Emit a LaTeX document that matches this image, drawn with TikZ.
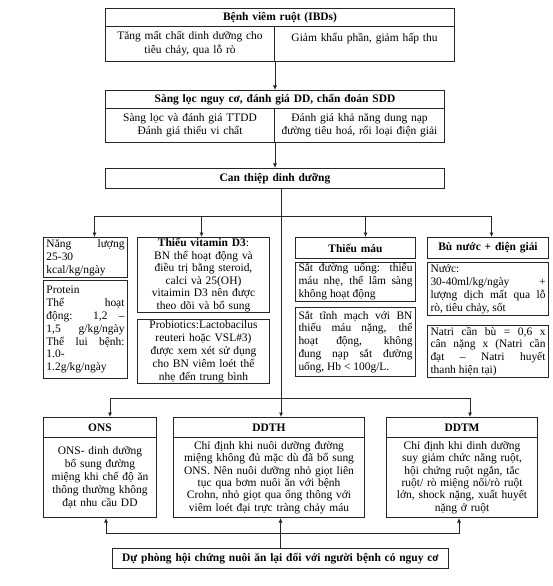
\documentclass[tikz,border=0pt]{standalone}
\usepackage{fontspec}
\setmainfont{Liberation Serif}
\usetikzlibrary{arrows.meta,positioning,calc}

\begin{document}
\begin{tikzpicture}[
    x=1bp, y=-1bp,
    every node/.style={font=\fontsize{11.5}{13}\selectfont},
    cell/.style={draw=edge, line width=1pt, anchor=north west, text width=#1,
      inner xsep=3bp, inner ysep=1bp, align=center},
    head/.style={cell=#1, font=\fontsize{11.5}{13}\selectfont\bfseries},
    arr/.style={-{Latex[length=4.5bp, width=4bp]}, line width=0.8pt, edge},
  ]
    \definecolor{edge}{HTML}{262626}
    \useasboundingbox (0,0) rectangle (553,586);

    % disease and screening blocks
    \node[head=343bp, minimum height=18bp] (ibdT) at (105,8) {Bệnh viêm ruột (IBDs)};
    \node[cell=163bp, minimum height=35bp, font=\fontsize{11.5}{14}\selectfont] (ibdL) at (105,26)
      {Tăng mất chất dinh dưỡng cho\\ tiêu chảy, qua lỗ rò};
    \node[cell=174bp, minimum height=35bp, font=\fontsize{11.5}{14}\selectfont] (ibdR) at (274,26)
      {Giảm khẩu phần, giảm hấp thu\\ \mbox{}};

    \node[head=333bp, minimum height=18bp] (sangT) at (105,90) {Sàng lọc nguy cơ, đánh giá DD, chẩn đoán SDD};
    \node[cell=163bp, minimum height=34bp] (sangL) at (105,108)
      {Sàng lọc và đánh giá TTDD\\ Đánh giá thiểu vi chất};
    \node[cell=164bp, minimum height=34bp] (sangR) at (274,108)
      {Đánh giá khả năng dung nạp\\ đường tiêu hoá, rối loại điện giải};

    \node[head=333bp, minimum height=20bp] (canT) at (105,168) {Can thiệp dinh dưỡng};

    % four groups of intervention
    \node[cell=78bp, minimum height=40bp, align=justify] (nang) at (43,237)
      {Năng lượng\linebreak 25-30\\ kcal/kg/ngày};
    \node[cell=78bp, minimum height=98bp, align=justify] (protein) at (43,280)
      {Protein\\ Thể hoạt\linebreak động: 1,2 –\linebreak 1,5 g/kg/ngày\linebreak
       Thể lui bệnh:\linebreak 1.0-\\ 1.2g/kg/ngày};

    \node[cell=126bp, minimum height=75bp, font=\fontsize{11.5}{12.5}\selectfont] (vitD) at (137,237)
      {\textbf{Thiếu vitamin D3}:\\ BN thể hoạt động và\\ điều trị bằng steroid,\\
       calci và 25(OH)\\ vitaimin D3 nên được\\ theo dõi và bổ sung};
    \node[cell=126bp, minimum height=64bp] (probio) at (137,319)
      {Probiotics:Lactobacilus\\ reuteri hoặc VSL\#3)\\ được xem xét sử dụng\\
       cho BN viêm loét thể\\ nhẹ đến trung bình};

    \node[head=114bp, minimum height=21bp] (mauT) at (295,237) {Thiếu máu};
    \node[cell=114bp, minimum height=38bp, align=justify] (mau1) at (295,262)
      {Sắt đường uống: thiếu\linebreak máu nhẹ, thể lâm sàng\linebreak không hoạt động};
    \node[cell=114bp, minimum height=69bp, align=justify] (mau2) at (295,307)
      {Sắt tĩnh mạch với BN\linebreak thiếu máu nặng, thể\linebreak hoạt động, không\linebreak
       đung nạp sắt đường\linebreak uống, Hb < 100g/L.};

    \node[head=115bp, minimum height=21bp] (nuocT) at (427,237) {Bù nước + điện giải};
    \node[cell=115bp, minimum height=53bp, align=justify] (nuoc) at (427,262)
      {Nước:\\ 30-40ml/kg/ngày \hfill +\linebreak lượng dịch mất qua lỗ\linebreak rò, tiêu chảy, sốt};
    \node[cell=115bp, minimum height=52bp, align=justify] (natri) at (427,325)
      {Natri cần bù = 0,6 x\linebreak cân nặng x (Natri cần\linebreak đạt – Natri huyết\linebreak
       thanh hiện tại)};

    % feeding routes
    \node[head=107bp, minimum height=20bp] (onsT) at (43,417) {ONS};
    \node[cell=107bp, minimum height=80bp] (ons) at (43,437)
      {ONS- dinh dưỡng\\ bổ sung đường\\ miệng khi chế độ ăn\\ thông thường không\\ đạt nhu cầu DD};

    \node[head=185bp, minimum height=20bp] (ddthT) at (173,417) {DDTH};
    \node[cell=185bp, minimum height=80bp, font=\fontsize{11.5}{12.5}\selectfont] (ddth) at (173,437)
      {Chỉ định khi nuôi dưỡng đường\\ miệng không đủ mặc dù đã bổ sung\\
       ONS. Nên nuôi dưỡng nhỏ giọt liên\\ tục qua bơm nuôi ăn với bệnh\\
       Crohn, nhỏ giọt qua ống thông với\\ viêm loét đại trực tràng chảy máu};

    \node[head=145bp, minimum height=20bp] (ddtmT) at (386,417) {DDTM};
    \node[cell=145bp, minimum height=80bp, font=\fontsize{11.5}{12.5}\selectfont] (ddtm) at (386,437)
      {Chỉ định khi dinh dưỡng\\ suy giảm chức năng ruột,\\ hội chứng ruột ngắn, tắc\\
       ruột/ rò miệng nối/rò ruột\\ lớn, shock nặng, xuất huyết\\ nặng ở ruột};

    \node[head=330bp, minimum height=20bp] (dp) at (112,548)
      {Dự phòng hội chứng nuôi ăn lại đối với người bệnh có nguy cơ};

    % connectors
    \coordinate (hub) at (281,216);
    \coordinate (mid) at (281,398);
    \coordinate (foot) at (280,533);

    \draw[arr] (ibdL.south east) -- (ibdL.south east |- sangT.north);
    \draw[arr] (sangL.south east) -- (sangL.south east |- canT.north);

    \draw[arr] (canT.south -| hub) -- (hub |- ddthT.north);
    \draw[arr] (hub) -| ([xshift=9bp]nang.north);
    \draw[arr] (hub) -| ([xshift=-2bp]vitD.north);
    \draw[arr] (hub) -| ([xshift=10bp]mauT.north);
    \draw[arr] (hub) -| ([xshift=3.5bp]nuocT.north);

    \draw[arr] (mid) -| ([xshift=10bp]onsT.north);
    \draw[arr] (mid) -| ([xshift=8bp]ddtmT.north);

    \draw[arr] (dp.north) -- (dp.north |- ddth.south);
    \draw[arr] (foot) -| ([xshift=6bp]ons.south);
    \draw[arr] (foot) -| ([xshift=-3bp]ddtm.south);
  \end{tikzpicture}
\end{document}
